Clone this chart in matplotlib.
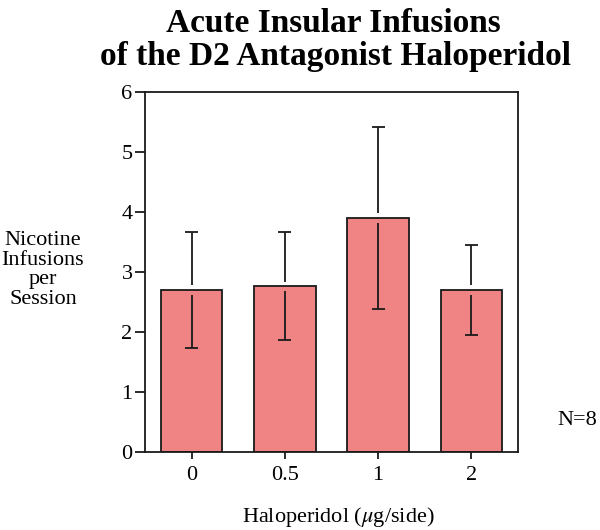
import numpy as np
import matplotlib
matplotlib.use('Agg')
import matplotlib.pyplot as plt

# Dados
doses = ['0', '0.5', '1', '2']
means = [2.70, 2.76, 3.90, 2.70]
errs  = [0.96, 0.90, 1.52, 0.75]

plt.rcParams['font.family'] = ['Liberation Serif', 'DejaVu Serif']
plt.rcParams['mathtext.fontset'] = 'stix'

fig = plt.figure(figsize=(6, 5.3), dpi=100)
ax = fig.add_axes([145/600, 1 - 452/530, 373/600, 360/530])

x = np.arange(len(doses))
ax.bar(x, means, width=0.66, color='#f08383', edgecolor='#1a1a1a', linewidth=1.3, zorder=2)

# barras de erro com pequena folga perto do topo da barra
gap = 0.08
m = np.array(means)
e = np.array(errs)
ax.vlines(x, m + gap, m + e, color='#1a1a1a', linewidth=1.3, zorder=3)
ax.vlines(x, m - e, m - gap, color='#1a1a1a', linewidth=1.3, zorder=3)
ax.hlines(m + e, x - 0.07, x + 0.07, color='#1a1a1a', linewidth=1.3, zorder=3)
ax.hlines(m - e, x - 0.07, x + 0.07, color='#1a1a1a', linewidth=1.3, zorder=3)

ax.set_xlim(-0.5, 3.5)
ax.set_ylim(0, 6)
ax.set_xticks(x)
ax.set_xticklabels(doses)
ax.set_yticks(range(7))
ax.tick_params(axis='both', labelsize=16, width=1.3, color='#1a1a1a', direction='out')
ax.tick_params(axis='y', length=7, pad=2)
ax.tick_params(axis='x', length=5, pad=5)
for s in ax.spines.values():
    s.set_linewidth(1.3)
    s.set_color('#1a1a1a')

# título em duas linhas
fig.text(333/600, 1 - 32/530, 'Acute Insular Infusions',
         ha='center', va='baseline', fontsize=24, fontweight='bold')
fig.text(335/600, 1 - 65/530, 'of the D2 Antagonist Haloperidol',
         ha='center', va='baseline', fontsize=24, fontweight='bold')

fig.text(43/600, 1 - 270/530, 'Nicotine\nInfusions\nper\nSession',
         ha='center', va='center', fontsize=16, linespacing=1.05)
fig.text(338/600, 1 - 522/530, 'Haloperidol ($\\mu$g/side)', ha='center', va='baseline', fontsize=16)
fig.text(577/600, 1 - 425/530, 'N=8', ha='center', va='baseline', fontsize=16)

fig.savefig('out.png', dpi=100)
